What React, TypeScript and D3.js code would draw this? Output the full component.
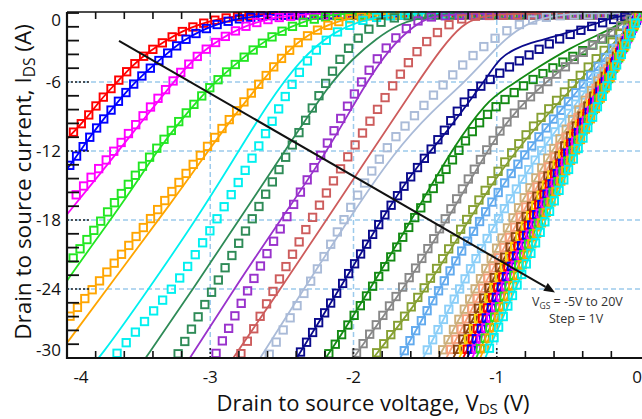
import React, { useEffect, useRef } from 'react';
import * as d3 from 'd3';

type Pt = [number, number];

// ---------- categories / ticks ----------
const vgsValues = [-5, -4, -3, -2, -1, 0, 1, 2, 3, 4, 5, 6, 7, 8, 9, 10, 11, 12, 13, 14, 15, 16, 17, 18, 19, 20];
const curveColors = [
  '#ff0000', '#0000ff', '#ff00ff', '#22e622', '#ffa500', '#00f0f0', '#2e8b57', '#9932cc', '#cd5c5c', '#aabbd8',
  '#0a0a8c', '#138a13', '#888888', '#86a032', '#62aaee', '#8ccff8', '#cdb07c', '#f7a07c', '#8b4513', '#ffd700',
  '#ff0000', '#0000ff', '#ff00ff', '#22e622', '#ffa500', '#00f0f0',
];
const xTickValues = [-4, -3, -2, -1, 0];
const yTickValues = [0, -6, -12, -18, -24, -30];
const xGridValues = [-3, -2, -1];
const yGridValues = [-6, -12, -18, -24];

// ---------- simulated (lines) & measured (markers) ----------
const simVgsN5: Pt[] = [[-4.2,-13.2],[-4.0,-11.0],[-3.86,-9.1],[-3.77,-7.6],[-3.65,-6.0],[-3.54,-4.5],[-3.42,-3.3],[-3.30,-2.3],[-3.19,-1.55],[-3.07,-0.95],[-2.95,-0.55],[-2.83,-0.28],[-2.65,-0.08],[-2.4,0],[0,0]];
const measVgsN5: Pt[] = [[-4.2,-13.2],[-4.0,-11.0],[-3.86,-9.1],[-3.77,-7.6],[-3.65,-6.0],[-3.54,-4.5],[-3.42,-3.3],[-3.30,-2.3],[-3.19,-1.55],[-3.07,-0.95],[-2.95,-0.55],[-2.83,-0.3],[-2.65,-0.17],[-2.4,-0.15],[0,-0.15]];
const simVgsN4: Pt[] = [[-4.2,-16.4],[-4.0,-13.7],[-3.86,-11.1],[-3.77,-9.6],[-3.65,-7.8],[-3.54,-6.2],[-3.42,-4.8],[-3.30,-3.5],[-3.19,-2.4],[-3.07,-1.56],[-2.95,-0.95],[-2.79,-0.43],[-2.58,-0.15],[-2.3,-0.02],[-2.1,0],[0,0]];
const measVgsN4: Pt[] = [[-4.2,-16.4],[-4.0,-13.7],[-3.86,-11.1],[-3.77,-9.6],[-3.65,-7.8],[-3.54,-6.2],[-3.42,-4.8],[-3.30,-3.5],[-3.19,-2.4],[-3.07,-1.56],[-2.95,-0.95],[-2.79,-0.43],[-2.58,-0.2],[-2.3,-0.15],[0,-0.15]];
const simVgsN3: Pt[] = [[-4.2,-20.6],[-4.0,-17.5],[-3.77,-14.0],[-3.54,-10.4],[-3.30,-6.7],[-3.19,-5.0],[-3.07,-3.5],[-2.93,-2.25],[-2.79,-1.3],[-2.65,-0.7],[-2.51,-0.28],[-2.3,-0.08],[-2.0,0],[0,0]];
const measVgsN3: Pt[] = [[-4.2,-19.8],[-4.0,-16.8],[-3.91,-15.4],[-3.77,-13.4],[-3.65,-11.7],[-3.54,-10.0],[-3.42,-8.2],[-3.30,-6.5],[-3.19,-4.9],[-3.07,-3.5],[-2.93,-2.25],[-2.79,-1.3],[-2.65,-0.7],[-2.51,-0.32],[-2.3,-0.17],[-2.0,-0.15],[0,-0.15]];
const simVgsN2: Pt[] = [[-4.2,-27.0],[-4.0,-23.2],[-3.58,-16.0],[-3.39,-12.3],[-3.18,-8.9],[-2.97,-6.0],[-2.79,-4.1],[-2.65,-2.7],[-2.51,-1.6],[-2.37,-0.85],[-2.23,-0.32],[-2.09,-0.08],[-1.9,0],[0,0]];
const measVgsN2: Pt[] = [[-4.2,-25.5],[-4.0,-22.0],[-3.77,-18.2],[-3.58,-15.0],[-3.39,-12.0],[-3.18,-8.8],[-2.97,-6.0],[-2.79,-4.1],[-2.65,-2.7],[-2.51,-1.6],[-2.37,-0.85],[-2.23,-0.36],[-2.09,-0.18],[-1.9,-0.15],[0,-0.15]];
const simVgsN1: Pt[] = [[-4.2,-32.0],[-4.0,-28.7],[-3.62,-22.3],[-3.26,-16.3],[-3.05,-12.6],[-2.85,-9.2],[-2.65,-6.1],[-2.51,-4.0],[-2.37,-2.3],[-2.23,-1.3],[-2.09,-0.65],[-1.95,-0.25],[-1.75,-0.04],[-1.6,0],[0,0]];
const measVgsN1: Pt[] = [[-4.2,-29.5],[-4.0,-26.7],[-3.82,-24.0],[-3.42,-18.0],[-3.05,-12.0],[-2.65,-6.0],[-2.51,-4.0],[-2.37,-2.3],[-2.23,-1.3],[-2.09,-0.65],[-1.95,-0.3],[-1.75,-0.17],[-1.6,-0.15],[0,-0.15]];
const simVgs0: Pt[] = [[-3.92,-32.0],[-3.77,-30.0],[-3.43,-24.0],[-3.10,-18.0],[-2.84,-12.8],[-2.60,-7.9],[-2.37,-4.0],[-2.14,-1.6],[-1.91,-0.5],[-1.68,-0.1],[-1.5,0],[0,0]];
const measVgs0: Pt[] = [[-3.85,-32.5],[-3.68,-30.0],[-3.40,-26.0],[-3.20,-23.0],[-2.98,-18.5],[-2.76,-13.8],[-2.60,-10.2],[-2.48,-7.3],[-2.37,-4.9],[-2.25,-3.0],[-2.14,-1.8],[-2.02,-1.0],[-1.91,-0.5],[-1.77,-0.25],[-1.63,-0.16],[-1.5,-0.15],[0,-0.15]];
const simVgs1: Pt[] = [[-3.62,-33],[-3.45,-30],[-3.12,-24],[-2.80,-18],[-2.48,-12],[-2.17,-6.2],[-2.0,-3.9],[-1.84,-2.2],[-1.68,-0.95],[-1.56,-0.5],[-1.40,-0.1],[-1.2,0],[0,0]];
const measVgs1: Pt[] = [[-3.37,-33],[-3.24,-30],[-2.98,-24],[-2.71,-18],[-2.45,-12],[-2.19,-6],[-2.10,-4.0],[-1.99,-2.4],[-1.88,-1.2],[-1.76,-0.5],[-1.62,-0.2],[-1.5,-0.15],[0,-0.15]];
const simVgs2: Pt[] = [[-3.30,-33],[-3.141,-30],[-2.834,-24],[-2.51,-18],[-2.18,-12],[-1.92,-6.2],[-1.745,-3],[-1.571,-1],[-1.452,-0.3],[-1.27,0],[0,0]];
const measVgs2: Pt[] = [[-3.10,-33],[-2.974,-30],[-2.736,-24],[-2.48,-18],[-2.21,-12],[-1.955,-6],[-1.78,-3],[-1.606,-1],[-1.50,-0.35],[-1.33,-0.15],[0,-0.15]];
const simVgs3: Pt[] = [[-3.0,-33],[-2.841,-30],[-2.51,-24],[-2.19,-18],[-1.87,-12],[-1.55,-6],[-1.382,-3],[-1.243,-1],[-1.117,-0.3],[-0.91,0],[0,0]];
const measVgs3: Pt[] = [[-2.93,-33],[-2.80,-30],[-2.555,-24],[-2.30,-18],[-2.02,-12],[-1.71,-6],[-1.55,-3],[-1.347,-1],[-1.222,-0.35],[-1.08,-0.15],[0,-0.15]];
const simVgs4: Pt[] = [[-2.80,-33],[-2.653,-30],[-2.346,-24],[-2.038,-18],[-1.71,-12],[-1.45,-8.5],[-1.22,-6.0],[-1.047,-3.6],[-0.90,-1.8],[-0.75,-0.7],[-0.58,-0.18],[-0.40,0],[0,0]];
const measVgs4: Pt[] = [[-2.74,-33],[-2.604,-30],[-2.325,-24],[-2.07,-18],[-1.80,-12.0],[-1.58,-9.0],[-1.38,-6.3],[-1.20,-4.0],[-1.02,-2.2],[-0.86,-1.0],[-0.70,-0.4],[-0.52,-0.18],[-0.35,-0.15],[0,-0.15]];
const simVgs5: Pt[] = [[-2.55,-33],[-2.394,-30],[-2.05,-23],[-1.724,-16.3],[-1.536,-13.0],[-1.396,-11.1],[-1.187,-7.63],[-1.047,-5.2],[-0.977,-3.9],[-0.873,-3.12],[-0.768,-2.6],[-0.607,-2.08],[-0.419,-1.39],[-0.279,-0.78],[-0.140,-0.26],[0,0]];
const measVgs5: Pt[] = [[-2.55,-33],[-2.394,-30],[-2.05,-23.0],[-1.724,-16.3],[-1.515,-12.8],[-1.396,-10.8],[-1.277,-8.5],[-1.166,-6.76],[-0.977,-5.2],[-0.768,-3.56],[-0.558,-2.17],[-0.370,-1.30],[-0.209,-0.61],[0,0]];
const simVgs6: Pt[] = [[-2.37,-33],[-2.185,-30],[-1.815,-22.6],[-1.536,-16.7],[-1.305,-11.7],[-1.068,-7.63],[-0.928,-6.5],[-0.719,-4.77],[-0.489,-3.03],[-0.23,-1.56],[-0.105,-0.69],[0,0]];
const measVgs6: Pt[] = [[-2.37,-33],[-2.185,-30],[-1.815,-22.8],[-1.536,-17.0],[-1.43,-15.0],[-1.305,-12.7],[-1.187,-10.5],[-1.068,-8.76],[-0.928,-7.37],[-0.768,-5.9],[-0.607,-4.77],[-0.44,-3.56],[-0.279,-2.43],[-0.140,-1.30],[0,0]];
const simVgs7: Pt[] = [[-2.17,-33],[-2.003,-30],[-1.536,-22],[-1.187,-14.6],[-0.977,-10.1],[-0.768,-7.2],[-0.558,-5.0],[-0.349,-2.9],[-0.175,-1.3],[0,0]];
const measVgs7: Pt[] = [[-2.17,-33],[-2.003,-30],[-1.745,-25.4],[-1.536,-21.7],[-1.396,-18.7],[-1.187,-14.1],[-0.998,-10.5],[-0.838,-8.06],[-0.663,-6.16],[-0.489,-4.34],[-0.314,-2.60],[-0.140,-1.13],[0,0]];
const simVgs8: Pt[] = [[-2.0,-32.2],[-1.864,-30],[-1.536,-24.9],[-1.24,-18.9],[-1.0,-14.2],[-0.8,-11.0],[-0.6,-8.2],[-0.4,-5.6],[-0.2,-2.9],[0,0]];
const measVgs8: Pt[] = [[-2.0,-32],[-1.864,-30],[-1.536,-24.7],[-1.24,-18.5],[-1.0,-13.8],[-0.8,-10.6],[-0.6,-7.8],[-0.4,-5.2],[-0.2,-2.6],[0,0]];
// high gate voltages: simulation and measurement overlap
const curveVgs9: Pt[] = [[-1.81,-33],[-1.675,-30],[-1.40,-24],[-1.12,-18],[-0.80,-12],[-0.38,-6],[-0.185,-3],[0,0]];
const curveVgs10: Pt[] = [[-1.64,-33],[-1.515,-30],[-1.26,-24],[-1.00,-18],[-0.70,-12],[-0.33,-6],[-0.162,-3],[0,0]];
const curveVgs11: Pt[] = [[-1.53,-33],[-1.41,-30],[-1.15,-24],[-0.90,-18],[-0.62,-12],[-0.295,-6],[-0.146,-3],[0,0]];
const curveVgs12: Pt[] = [[-1.47,-33],[-1.354,-30],[-1.10,-24],[-0.85,-18],[-0.58,-12],[-0.277,-6],[-0.137,-3],[0,0]];
const curveVgs13: Pt[] = [[-1.42,-33],[-1.305,-30],[-1.06,-24],[-0.81,-18],[-0.55,-12],[-0.263,-6],[-0.13,-3],[0,0]];
const curveVgs14: Pt[] = [[-1.38,-33],[-1.264,-30],[-1.025,-24],[-0.78,-18],[-0.53,-12],[-0.254,-6],[-0.126,-3],[0,0]];
const curveVgs15: Pt[] = [[-1.35,-33],[-1.236,-30],[-1.00,-24],[-0.76,-18],[-0.515,-12],[-0.247,-6],[-0.123,-3],[0,0]];
const curveVgs16: Pt[] = [[-1.32,-33],[-1.208,-30],[-0.975,-24],[-0.74,-18],[-0.50,-12],[-0.241,-6],[-0.12,-3],[0,0]];
const curveVgs17: Pt[] = [[-1.28,-33],[-1.173,-30],[-0.95,-24],[-0.72,-18],[-0.485,-12],[-0.235,-6],[-0.117,-3],[0,0]];
const curveVgs18: Pt[] = [[-1.25,-33],[-1.145,-30],[-0.925,-24],[-0.70,-18],[-0.47,-12],[-0.229,-6],[-0.114,-3],[0,0]];
const curveVgs19: Pt[] = [[-1.22,-33],[-1.117,-30],[-0.90,-24],[-0.68,-18],[-0.455,-12],[-0.223,-6],[-0.111,-3],[0,0]];
const curveVgs20: Pt[] = [[-1.18,-33],[-1.082,-30],[-0.87,-24],[-0.66,-18],[-0.44,-12],[-0.217,-6],[-0.108,-3],[0,0]];

const simCurves: Pt[][] = [simVgsN5, simVgsN4, simVgsN3, simVgsN2, simVgsN1, simVgs0, simVgs1, simVgs2, simVgs3, simVgs4, simVgs5, simVgs6, simVgs7, simVgs8,
  curveVgs9, curveVgs10, curveVgs11, curveVgs12, curveVgs13, curveVgs14, curveVgs15, curveVgs16, curveVgs17, curveVgs18, curveVgs19, curveVgs20];
const measCurves: Pt[][] = [measVgsN5, measVgsN4, measVgsN3, measVgsN2, measVgsN1, measVgs0, measVgs1, measVgs2, measVgs3, measVgs4, measVgs5, measVgs6, measVgs7, measVgs8,
  curveVgs9, curveVgs10, curveVgs11, curveVgs12, curveVgs13, curveVgs14, curveVgs15, curveVgs16, curveVgs17, curveVgs18, curveVgs19, curveVgs20];

// annotation arrow (data coordinates)
const arrowFrom: Pt = [-3.637, -2.42];
const arrowTo: Pt = [-0.593, -24.3];

const W = 642, H = 419;
const L = 67, R = 640, T = 12, B = 358;
const FONT = "'Open Sans', 'Liberation Sans', sans-serif";

export default function App() {
  const ref = useRef<SVGSVGElement>(null);

  useEffect(() => {
    const svg = d3.select(ref.current);
    svg.selectAll('*').remove();
    const x = d3.scaleLinear().domain([-4, 0]).range([L, R]);
    const y = d3.scaleLinear().domain([-30, 0]).range([B, 13]);

    const defs = svg.append('defs');
    defs.append('clipPath').attr('id', 'plotClip').append('rect')
      .attr('x', L).attr('y', T - 1).attr('width', W - L).attr('height', B - T + 1);

    // grid
    const grid = svg.append('g');
    xGridValues.forEach(v => {
      grid.append('line').attr('x1', x(v)).attr('x2', x(v)).attr('y1', T).attr('y2', B)
        .attr('stroke', '#9ccaec').attr('stroke-width', 1.5).attr('stroke-dasharray', '5,3');
    });
    yGridValues.forEach(v => {
      grid.append('line').attr('x1', L).attr('x2', W).attr('y1', y(v)).attr('y2', y(v))
        .attr('stroke', '#9ccaec').attr('stroke-width', 1.5).attr('stroke-dasharray', '5,3');
    });

    // curves
    const lineGen = d3.line<Pt>().x(d => x(d[0])).y(d => y(d[1])).curve(d3.curveBasis);
    const plot = svg.append('g').attr('clip-path', 'url(#plotClip)');
    const tmp = svg.append('path').attr('fill', 'none').attr('stroke', 'none');
    simCurves.forEach((sim, i) => {
      const col = curveColors[i];
      const meas = measCurves[i];
      const spacing = i >= 5 && i <= 9 ? 14 : 11.5;
      tmp.attr('d', lineGen(meas) as string);
      const node = tmp.node() as SVGPathElement;
      const len = node.getTotalLength();
      const pts: { x: number; y: number }[] = [];
      for (let s = 2; s <= len; s += spacing) {
        const p = node.getPointAtLength(s);
        if (p.x >= L + 2 && p.x <= W && p.y <= B - 1 && p.y >= T) pts.push({ x: p.x, y: p.y });
      }
      const g = plot.append('g');
      g.selectAll('rect').data(pts).enter().append('rect')
        .attr('x', d => d.x - 3.7).attr('y', d => d.y - 3.7)
        .attr('width', 7.4).attr('height', 7.4)
        .attr('fill', 'none').attr('stroke', col).attr('stroke-width', 1.9);
      g.append('path').attr('d', lineGen(sim) as string)
        .attr('fill', 'none').attr('stroke', col).attr('stroke-width', 1.8);
    });
    tmp.remove();

    // axes frame
    const ax = svg.append('g');
    ax.append('line').attr('x1', L).attr('x2', W).attr('y1', T).attr('y2', T).attr('stroke', '#111').attr('stroke-width', 1.5);
    ax.append('line').attr('x1', L).attr('x2', L).attr('y1', T).attr('y2', B + 1).attr('stroke', '#111').attr('stroke-width', 2.2);
    ax.append('line').attr('x1', L - 1).attr('x2', W).attr('y1', B).attr('y2', B).attr('stroke', '#111').attr('stroke-width', 2.2);

    // minor ticks
    const xMinor = d3.range(1, 20).map(i => -4 + i * 0.2);
    xMinor.forEach(v => {
      const isMajor = xGridValues.some(g => Math.abs(g - v) < 1e-6);
      ax.append('line').attr('x1', x(v)).attr('x2', x(v)).attr('y1', T).attr('y2', T + 7).attr('stroke', '#111').attr('stroke-width', 1.6);
      if (isMajor) {
        ax.append('line').attr('x1', x(v)).attr('x2', x(v)).attr('y1', B).attr('y2', B - 12)
          .attr('stroke', '#222').attr('stroke-width', 1.6).attr('stroke-dasharray', '2,2');
      } else {
        ax.append('line').attr('x1', x(v)).attr('x2', x(v)).attr('y1', B).attr('y2', B - 7).attr('stroke', '#111').attr('stroke-width', 1.6);
      }
    });
    const yMinor = d3.range(0, 26).map(i => -i * 1.2);
    yMinor.forEach(v => {
      const isMajor = yGridValues.some(g => Math.abs(g - v) < 1e-6);
      if (isMajor) {
        ax.append('line').attr('x1', L).attr('x2', L + 23).attr('y1', y(v)).attr('y2', y(v))
          .attr('stroke', '#222').attr('stroke-width', 1.6).attr('stroke-dasharray', '2,2');
      } else {
        ax.append('line').attr('x1', L).attr('x2', L + 12).attr('y1', y(v)).attr('y2', y(v)).attr('stroke', '#111').attr('stroke-width', 1.8);
      }
    });

    // tick labels
    yTickValues.forEach(v => {
      const dy = v === 0 ? 7 : v === -30 ? -8 : 0;
      ax.append('text').attr('x', 61).attr('y', y(v) + dy).attr('dy', '0.35em')
        .attr('text-anchor', 'end').attr('font-family', FONT).attr('font-size', 17).attr('fill', '#111').text(String(v));
    });
    xTickValues.forEach(v => {
      let xx = x(v), anchor = 'middle';
      if (v === -4) xx = x(v) + 14;
      if (v === 0) { xx = W; anchor = 'end'; }
      ax.append('text').attr('x', xx).attr('y', 382.5).attr('text-anchor', anchor)
        .attr('font-family', FONT).attr('font-size', 17).attr('fill', '#111').text(String(v));
    });

    // axis titles
    const xt = svg.append('text').attr('x', 373).attr('y', 411).attr('text-anchor', 'middle')
      .attr('font-family', FONT).attr('font-size', 22).attr('fill', '#111');
    xt.append('tspan').text('Drain to source voltage, V');
    xt.append('tspan').attr('font-size', 15).attr('dy', 3).text('DS');
    xt.append('tspan').attr('dy', -3).text(' (V)');

    const yt = svg.append('text').attr('transform', 'translate(31,182) rotate(-90)').attr('text-anchor', 'middle')
      .attr('font-family', FONT).attr('font-size', 22.5).attr('fill', '#111');
    yt.append('tspan').text('Drain to source current, I');
    yt.append('tspan').attr('font-size', 15.5).attr('dy', 4).text('DS');
    yt.append('tspan').attr('dy', -4).text(' (A)');

    // arrow
    const x1 = x(arrowFrom[0]), y1 = y(arrowFrom[1]), x2 = x(arrowTo[0]), y2 = y(arrowTo[1]);
    const ang = Math.atan2(y2 - y1, x2 - x1);
    const hl = 11, hw = 4.5;
    const bx = x2 - hl * Math.cos(ang), by = y2 - hl * Math.sin(ang);
    svg.append('line').attr('x1', x1).attr('y1', y1).attr('x2', bx).attr('y2', by).attr('stroke', '#111').attr('stroke-width', 2);
    svg.append('path').attr('d', `M${x2},${y2}L${bx - hw * Math.sin(ang)},${by + hw * Math.cos(ang)}L${bx + hw * Math.sin(ang)},${by - hw * Math.cos(ang)}Z`).attr('fill', '#111');

    // annotation text
    const t1 = svg.append('text').attr('x', 532).attr('y', 306).attr('font-family', FONT).attr('font-size', 12.5).attr('fill', '#333');
    t1.append('tspan').text('V');
    t1.append('tspan').attr('font-size', 8.5).attr('dy', 2.5).text('GS');
    t1.append('tspan').attr('dy', -2.5).text(' = -5V to 20V');
    svg.append('text').attr('x', 549).attr('y', 322.5).attr('font-family', FONT).attr('font-size', 12.5).attr('fill', '#333').text('Step = 1V');
  }, []);

  return <svg ref={ref} width={W} height={H} style={{ position: 'absolute', left: 0, top: 0, background: '#fff' }} />;
}
